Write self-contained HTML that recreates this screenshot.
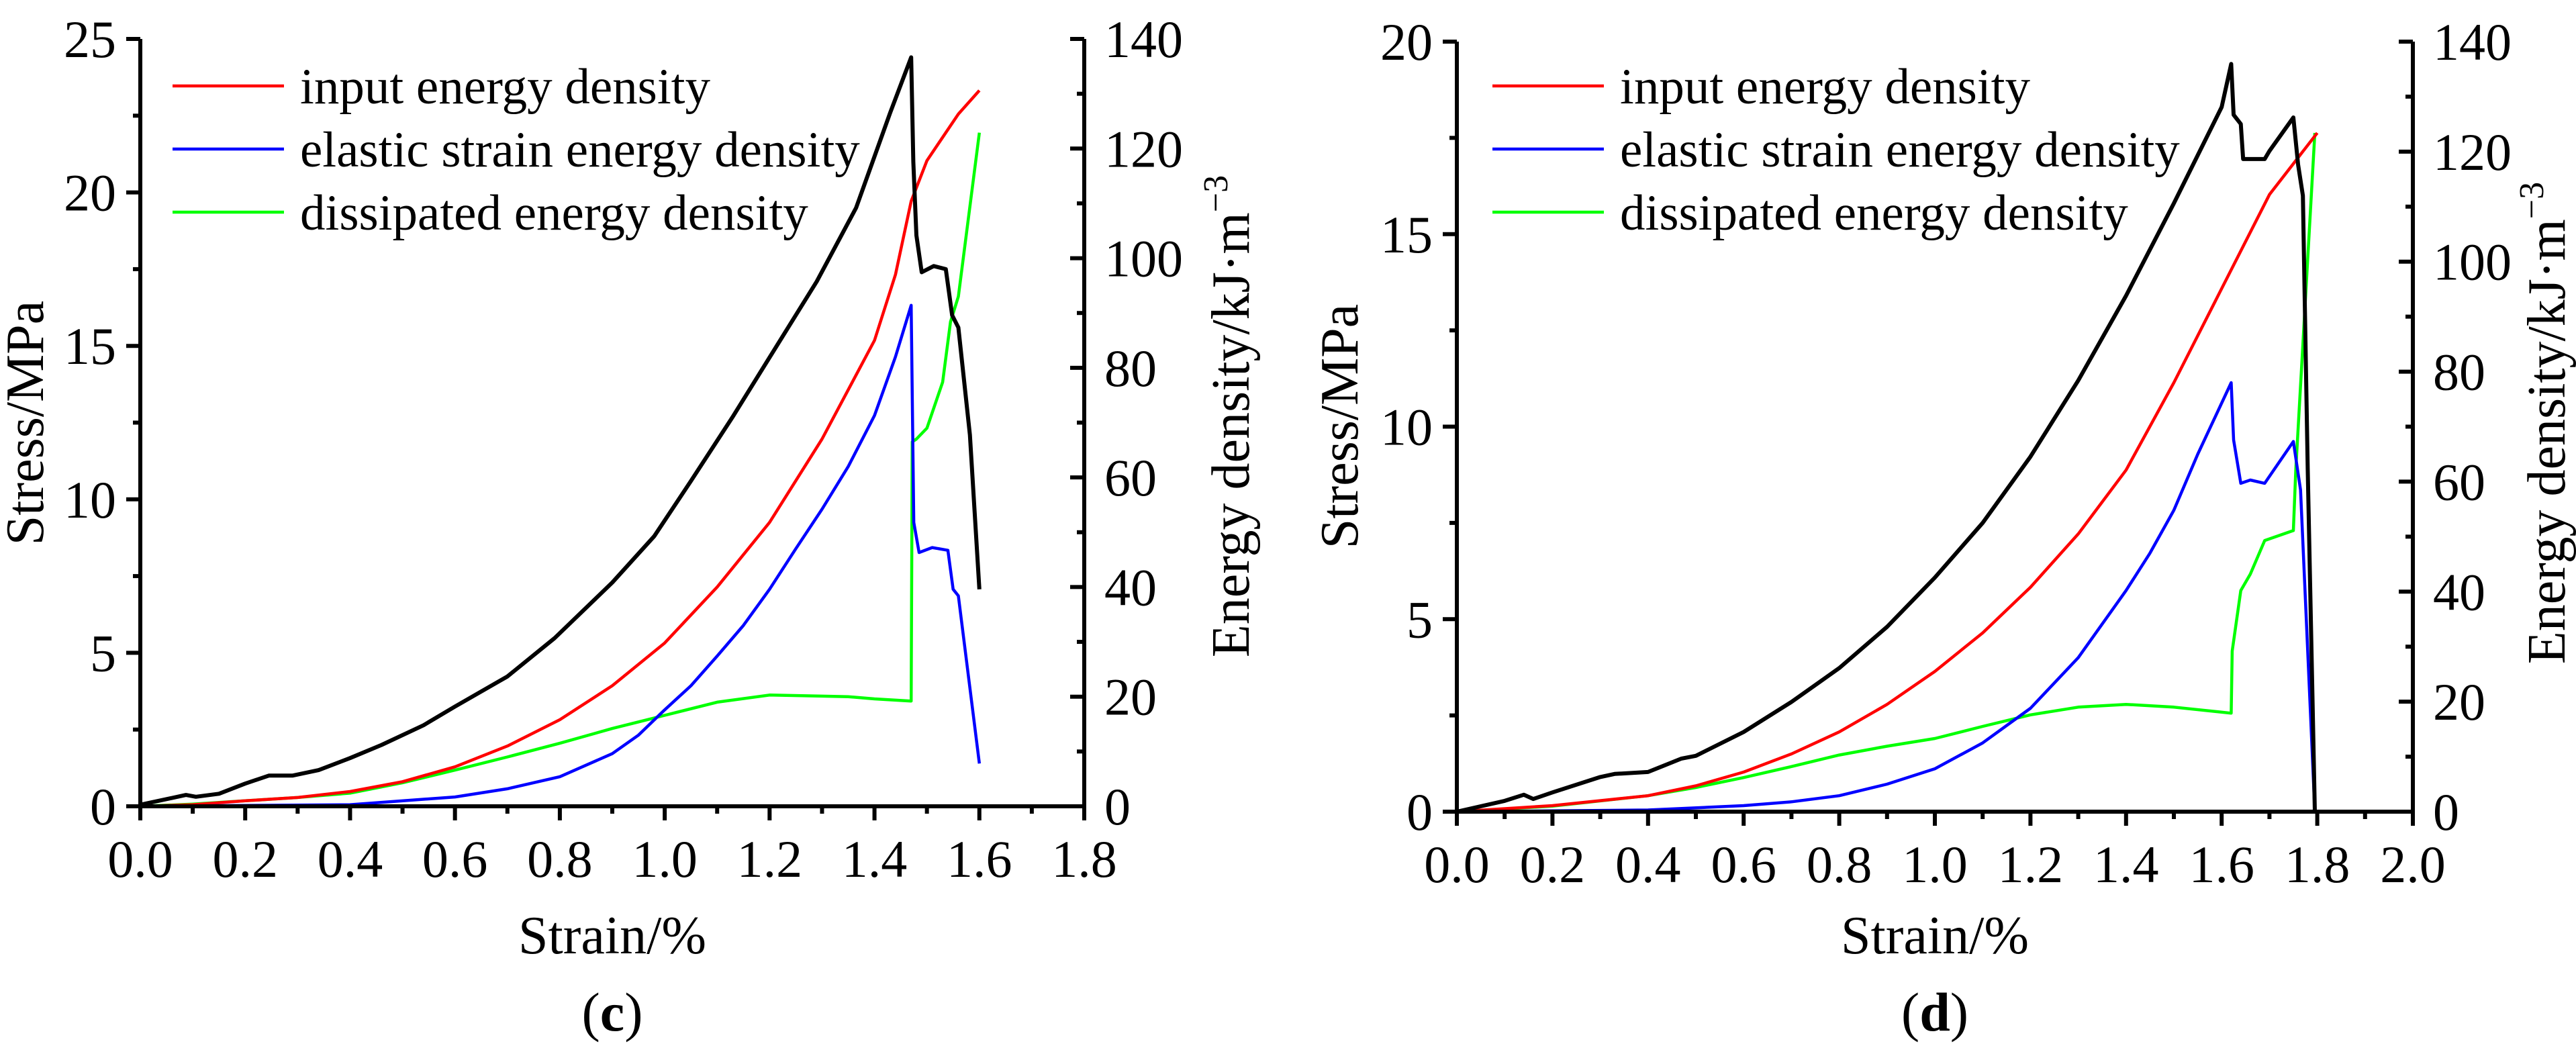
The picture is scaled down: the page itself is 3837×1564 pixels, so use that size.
<!DOCTYPE html>
<html><head><meta charset="utf-8"><style>
html,body{margin:0;padding:0;background:#fff;}
svg{display:block;}
svg text{font-family:"Liberation Serif","DejaVu Serif","Times New Roman",serif;}
</style></head><body>
<svg id="fig" width="3837" height="1564" viewBox="0 0 3837 1564" xmlns="http://www.w3.org/2000/svg"></svg>
<script>
// ---- panel (c) data ----
const cStressX=[0,0.087,0.106,0.15,0.2,0.245,0.29,0.34,0.4,0.46,0.54,0.6,0.7,0.79,0.9,0.98,1.05,1.13,1.21,1.29,1.365,1.43,1.47,1.474,1.48,1.49,1.513,1.536,1.548,1.56,1.582,1.6];
const cStressY=[0.05,0.37,0.31,0.41,0.74,1.0,1.0,1.18,1.57,2.0,2.64,3.25,4.23,5.48,7.29,8.8,10.6,12.7,14.9,17.1,19.5,22.6,24.4,21.0,18.6,17.4,17.6,17.5,16.0,15.6,12.1,7.07];
const cInputX=[0,0.1,0.2,0.3,0.4,0.5,0.6,0.7,0.8,0.9,1.0,1.1,1.2,1.3,1.4,1.44,1.47,1.5,1.56,1.6];
const cInputY=[0,0.3,1.0,1.6,2.7,4.5,7.2,11,15.8,22,29.8,40,51.8,67,85,97,110.4,117.8,126.3,130.6];
const cElasticX=[0,0.4,0.6,0.7,0.8,0.9,0.95,1.0,1.05,1.1,1.15,1.2,1.25,1.3,1.35,1.4,1.44,1.47,1.475,1.485,1.51,1.54,1.55,1.56,1.6];
const cElasticY=[0,0.3,1.7,3.2,5.4,9.6,13,17.6,22,27.4,33,39.6,47,54.2,62,71.3,82,91.4,51.8,46.3,47.2,46.7,39.6,38.4,7.8];
const cDissX=[0,0.1,0.2,0.3,0.4,0.5,0.6,0.7,0.8,0.9,0.95,1.0,1.1,1.2,1.3,1.35,1.4,1.47,1.472,1.48,1.5,1.53,1.545,1.56,1.6];
const cDissY=[0,0.4,1.0,1.6,2.4,4.3,6.6,9,11.5,14.2,15.4,16.6,19,20.3,20.1,20.0,19.6,19.2,66.5,67,69,77.4,88.4,93,122.9];
// ---- panel (d) data ----
const dStressX=[0,0.1,0.14,0.16,0.2,0.3,0.33,0.4,0.47,0.5,0.6,0.7,0.8,0.9,1.0,1.1,1.2,1.3,1.4,1.5,1.6,1.62,1.625,1.64,1.645,1.69,1.7,1.75,1.76,1.77,1.78,1.795];
const dStressY=[0,0.28,0.44,0.33,0.5,0.9,0.98,1.03,1.38,1.45,2.07,2.85,3.73,4.8,6.08,7.5,9.22,11.2,13.4,15.8,18.3,19.42,18.1,17.86,16.95,16.95,17.16,18.03,16.8,16.0,8.9,0];
const dInputX=[0,0.2,0.4,0.5,0.6,0.7,0.8,0.9,1.0,1.1,1.2,1.3,1.4,1.5,1.6,1.7,1.8];
const dInputY=[0,1.1,2.9,4.7,7.2,10.5,14.5,19.5,25.5,32.5,40.8,50.5,62.1,78,95.1,112.2,123.4];
const dElasticX=[0,0.4,0.6,0.7,0.8,0.9,1.0,1.1,1.2,1.3,1.4,1.45,1.5,1.55,1.62,1.625,1.64,1.66,1.69,1.75,1.765,1.795];
const dElasticY=[0,0.3,1.1,1.8,2.9,5,7.8,12.5,18.8,28,40.2,47,54.8,65,78,67.6,59.7,60.3,59.7,67.3,58.5,0];
const dDissX=[0,0.2,0.4,0.5,0.6,0.7,0.8,0.9,1.0,1.1,1.2,1.3,1.4,1.5,1.62,1.622,1.64,1.66,1.69,1.75,1.755,1.795];
const dDissY=[0,1.0,2.9,4.4,6.2,8.2,10.3,11.9,13.3,15.5,17.6,19,19.5,19,17.9,29.2,40.2,43.2,49.3,51.1,62.1,123.4];
// ticks
const cXTicks=["0.0","0.2","0.4","0.6","0.8","1.0","1.2","1.4","1.6","1.8"];
const dXTicks=["0.0","0.2","0.4","0.6","0.8","1.0","1.2","1.4","1.6","1.8","2.0"];
const cYTicks=["0","5","10","15","20","25"];
const dYTicks=["0","5","10","15","20"];
const eTicks=["0","20","40","60","80","100","120","140"];
const legendLabels=["input energy density","elastic strain energy density","dissipated energy density"];

const NS="http://www.w3.org/2000/svg";
const svg=document.getElementById('fig');
const FF='"Liberation Serif", "DejaVu Serif", "Times New Roman", serif';
function mk(tag,attrs,parent,text){const e=document.createElementNS(NS,tag);for(const k in attrs)e.setAttribute(k,attrs[k]);if(tag==='text')e.style.fontFamily=FF;if(text!==undefined)e.textContent=text;(parent||svg).appendChild(e);return e;}

function panel(o){
  const g=mk('g',{});
  
  
  const xs=v=>o.x0+(v-0)/(o.xmax)*(o.x1-o.x0);
  const ys=v=>o.yb-v/o.ymax*(o.yb-o.yt);
  const es=v=>o.yb-v/140*(o.yb-o.yt);
  function line(X,Y,sc,color,w,name){
    let d='';for(let i=0;i<X.length;i++)d+=(i?'L':'M')+xs(X[i]).toFixed(1)+','+sc(Y[i]).toFixed(1);
    const p=mk('path',{d:d,fill:'none',stroke:color,'stroke-width':w,'stroke-linejoin':'round'},g);
    
    
  }
  line(o.dx,o.dy,es,'#00ff00',4.5,'dissipated-energy-line');
  line(o.ix,o.iy,es,'#ff0000',4.5,'input-energy-line');
  line(o.ex,o.ey,es,'#0000ff',4.5,'elastic-energy-line');
  line(o.sx,o.sy,ys,'#000',6,'stress-strain-line');
  const ax=mk('g',{stroke:'#000','stroke-width':6,fill:'none'},g);
  
  
  mk('line',{x1:o.x0,y1:o.yt,x2:o.x0,y2:o.yb+3},ax);
  mk('line',{x1:o.x1,y1:o.yt,x2:o.x1,y2:o.yb+3},ax);
  mk('line',{x1:o.x0-3,y1:o.yb,x2:o.x1+3,y2:o.yb},ax);
  const fs=78;
  const xt=o.xTicks;
  for(let i=0;i<xt.length;i++){
    const v=parseFloat(xt[i]);const x=xs(v);
    mk('line',{x1:x,y1:o.yb,x2:x,y2:o.yb+21},ax);
    if(i<xt.length-1){const xm=xs(v+o.xmax/(xt.length-1)/2);mk('line',{x1:xm,y1:o.yb,x2:xm,y2:o.yb+11},ax);}
    const t=mk('text',{x:x,y:o.yb+105,'font-size':fs,'text-anchor':'middle'},g,xt[i]);
    
    
  }
  const yt=o.yTicks;const ystep=o.ymax/(yt.length-1);
  for(let i=0;i<yt.length;i++){
    const v=parseFloat(yt[i]);const y=ys(v);
    mk('line',{x1:o.x0-21,y1:y,x2:o.x0,y2:y},ax);
    if(i<yt.length-1){const ym=ys(v+ystep/2);mk('line',{x1:o.x0-11,y1:ym,x2:o.x0,y2:ym},ax);}
    const t=mk('text',{x:o.x0-36,y:y+27,'font-size':fs,'text-anchor':'end'},g,yt[i]);
    
    
  }
  for(let i=0;i<eTicks.length;i++){
    const v=parseFloat(eTicks[i]);const y=es(v);
    mk('line',{x1:o.x1-21,y1:y,x2:o.x1,y2:y},ax);
    if(i<eTicks.length-1){const ym=es(v+10);mk('line',{x1:o.x1-11,y1:ym,x2:o.x1,y2:ym},ax);}
    const t=mk('text',{x:o.x1+30,y:y+27,'font-size':fs,'text-anchor':'start'},g,eTicks[i]);
    
    
  }
  let t=mk('text',{x:0,y:0,'font-size':80,'text-anchor':'middle',transform:`translate(${o.ltx},${o.lty}) rotate(-90)`},g,'Stress/MPa');
  
  
  t=mk('text',{x:0,y:0,'font-size':80,'text-anchor':'middle',transform:`translate(${o.rtx},${o.rty}) rotate(-90)`},g);
  
  
  mk('tspan',{},t,'Energy density/kJ·m');
  mk('tspan',{dy:-32,'font-size':52},t,'−3');
  t=mk('text',{x:(o.x0+o.x1)/2,y:1420,'font-size':80,'text-anchor':'middle'},g,'Strain/%');
  
  
  t=mk('text',{x:(o.x0+o.x1)/2,y:1535,'font-size':82,'text-anchor':'middle'},g);
  
  
  mk('tspan',{},t,'(');mk('tspan',{'font-weight':'bold'},t,o.id);mk('tspan',{},t,')');
  const cols=['#ff0000','#0000ff','#00ff00'];
  for(let i=0;i<3;i++){
    const y=o.legY+i*94;
    const lg=mk('g',{},g);
    
    
    mk('line',{x1:o.legX,y1:y,x2:o.legX+166,y2:y,stroke:cols[i],'stroke-width':4.5},lg);
    mk('text',{x:o.legX+190,y:y+26,'font-size':75},lg,legendLabels[i]);
  }
}
panel({id:'c',x0:209,x1:1615,yt:58,yb:1201,xmax:1.8,ymax:25,xTicks:cXTicks,yTicks:cYTicks,
  sx:cStressX,sy:cStressY,ix:cInputX,iy:cInputY,ex:cElasticX,ey:cElasticY,dx:cDissX,dy:cDissY,
  ltx:64,lty:630,rtx:1860,rty:620,legX:257,legY:128});
panel({id:'d',x0:2170,x1:3594,yt:62,yb:1209,xmax:2.0,ymax:20,xTicks:dXTicks,yTicks:dYTicks,
  sx:dStressX,sy:dStressY,ix:dInputX,iy:dInputY,ex:dElasticX,ey:dElasticY,dx:dDissX,dy:dDissY,
  ltx:2022,lty:635,rtx:3820,rty:630,legX:2223,legY:128});
</script>
</body></html>
